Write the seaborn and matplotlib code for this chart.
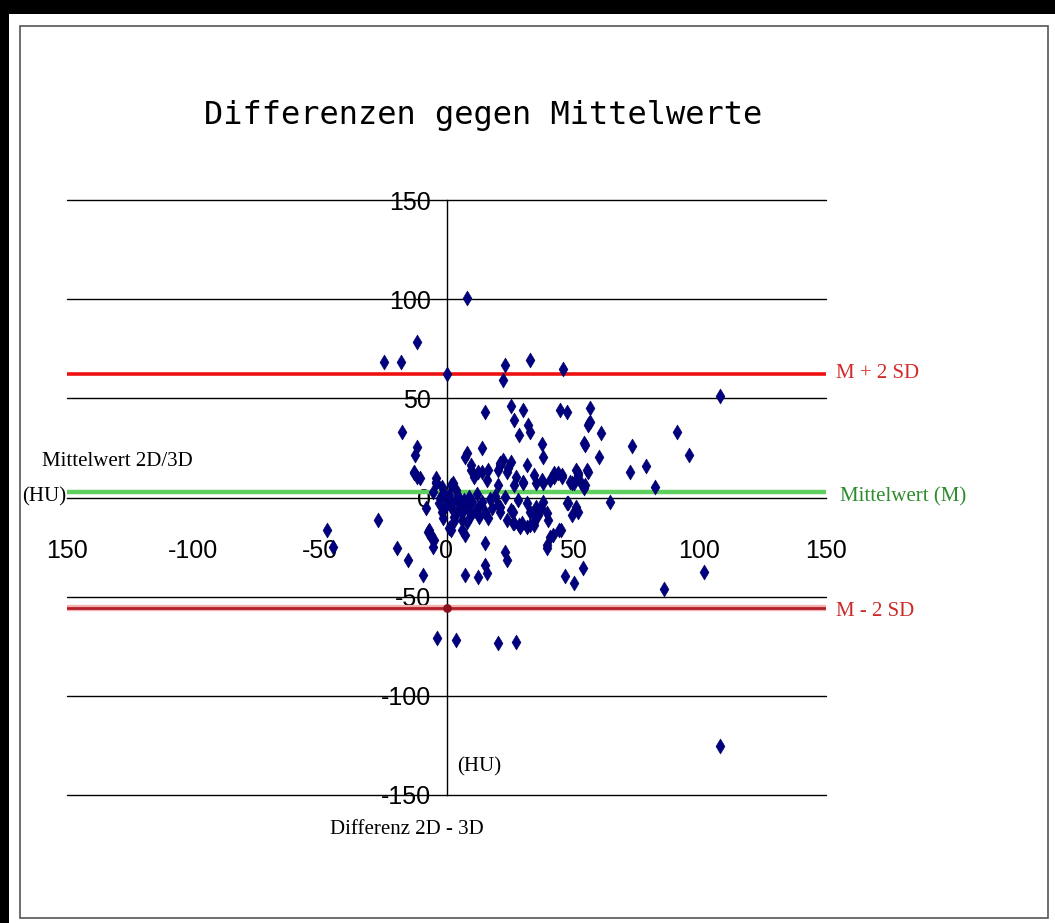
import matplotlib
matplotlib.use("Agg")
import matplotlib.pyplot as plt
import seaborn as sns
import pandas as pd
from matplotlib.patches import Rectangle

# Mean of 2D and 3D measurement (HU) and difference 2D - 3D (HU)
mittelwert = [
    8.3, -24.9, -17.8, -11.5, 0.0, 23.3, 22.5, 33.2, 46.2,
    108.3, 91.3, 95.7, 73.5, 72.7, 78.7, 82.6, 64.8,
    -17.4, -11.5, -12.3, -13.0, -11.5, -4.3, -4.3, 1.6,
    15.4, 25.3, 30.4, 26.5, 32.4, 33.2, 28.5, 37.9, 38.3, 44.7, 47.8, 56.9,
    56.5, 54.2, 14.2, 8.3, 7.5, 32.0, 22.5, 25.3, 9.5, 14.2, 20.2, 24.1,
    42.3, 45.8, 51.0, 56.1, 10.7, 16.2, 21.3, 24.5, 20.2, 30.4, 35.2, 38.3,
    42.3, 49.0, 51.8, 53.0, 54.9, 60.1, 60.9, 56.1, 56.9,
    45.8, 51.8, 50.2, 55.7, 54.9, 54.2, 47.8, 51.0, 49.8, 45.1,
    53.8, 47.0, 50.2, 101.6, 85.8, 108.3,
    43.9, 37.9, 41.1, 49.8, 35.2, 33.2, 40.3, 30.0, 34.4, 41.9, 39.9,
    -13.0, -10.3, -4.3, -1.6, 2.4, 3.6, -2.4, 0.4, 1.6, -1.6, -1.2, 2.8,
    4.7, 6.3, 8.3, 9.5, 12.3, 14.2, 15.4, 8.3, 16.6, 20.2, 21.3, 25.3,
    24.1, -7.5, -5.1, -6.3, 0.8, 6.3, 9.5, 12.6, 16.6, 21.3, 27.3,
    30.4, 34.4, 26.5, 28.1, 32.0, 26.1, 28.5, 32.0, 34.4, 36.0,
    -5.5, -8.3, 0.0, 2.0, 4.0, 5.5, 7.0, 10.0, 11.5, 13.0, 3.0, -0.5,
    6.0, 18.0, 17.0, -3.0, 1.0, 4.5, 9.0, 12.0, 19.0, 23.0, -1.0,
    -26.9, -19.4, -15.4, -9.1, -7.1, -6.3, -5.5, 1.6, 7.5, 15.4,
    23.3, 24.1, 15.4, 16.2, 7.5, 12.6, 26.5, 29.2, 33.2, 35.2, 37.2,
    38.3, 39.9, 41.1, 39.9, 44.3, 48.2, 51.8, 26.1, 21.3,
    -47.4, -45.0, -3.6, 3.6, 20.5, 27.3,
]
differenz = [
    100.6, 68.3, 68.3, 78.4, 62.3, 66.8, 59.3, 69.3, 64.8,
    51.2, 33.0, 21.4, 26.0, 12.9, 15.9, 5.3, -2.3,
    33.0, 25.5, 21.4, 12.4, 10.3, 9.8, 7.8, 6.3,
    43.1, 46.1, 44.1, 39.1, 36.6, 33.0, 31.5, 27.0, 20.4, 44.1, 43.1, 45.1,
    37.6, 27.5, 25.0, 22.4, 20.4, 16.4, 18.9, 17.9, 13.9, 12.9, 13.9, 12.9,
    12.4, 11.3, 13.9, 12.9, 10.3, 8.8, 17.4, 14.9, 6.3, 7.3, 7.3, 7.3,
    10.3, 7.8, 12.4, 7.3, 26.5, 20.4, 32.5, 36.6, 38.1,
    10.3, 11.3, 7.3, 13.9, 6.3, 4.8, -2.8, -4.8, -8.8, -16.4,
    -35.6, -39.6, -43.1, -37.6, -46.1, -125.4,
    12.4, 8.8, 8.8, 7.3, -4.8, -7.3, -11.3, -12.9, -13.9, -18.9, -24.0,
    12.9, 9.8, 7.3, 5.3, 7.3, 3.8, -0.3, -2.3, -4.8, -7.3, -10.3, -9.8,
    -6.3, -11.3, -4.8, -8.8, -5.3, -2.3, -7.3, -12.4, -10.3, -3.8, -7.3, -6.3,
    -11.3, -17.4, -21.4, -18.9, -15.4, -16.4, 16.4, 12.9, 13.9, 16.4, 10.3,
    7.8, 11.3, 6.3, -1.3, -2.8, -12.9, -13.9, -14.9, -12.4, -8.8,
    2.8, -5.3, -1.3, -3.0, -1.0, -3.5, -1.5, -2.5, -7.0, -10.0, -12.0, -5.0,
    -8.0, -5.5, -1.0, -3.0, 1.5, 1.0, 0.5, 2.0, 1.0, 0.5, 2.5,
    -11.3, -25.5, -31.5, -39.1, -16.4, -19.9, -25.0, -16.4, -18.9, -22.9,
    -27.5, -31.5, -34.0, -38.1, -39.1, -40.1, -12.9, -14.9, -13.9, -9.8, -5.3,
    -2.3, -7.8, -19.9, -25.5, -16.4, -2.8, -7.3, -7.3, -4.8,
    -16.4, -25.0, -70.9, -71.9, -73.4, -72.9,
]

# Mean difference and limits of agreement (M +/- 2 SD)
mean_diff = 3.0
upper_loa = 62.5
lower_loa = -55.5

axis_ticks = [-150, -100, -50, 0, 50, 100, 150]
x_tick_labels = ["150", "-100", "-50", "0", "50", "100", "150"]
y_tick_labels = ["-150", "-100", "-50", "0", "50", "100", "150"]
grid_levels = [-150, -100, -50, 50, 100, 150]

df = pd.DataFrame({"Mittelwert": mittelwert, "Differenz": differenz})

sns.set_style("white")
plt.rcParams["text.color"] = "black"
fig = plt.figure(figsize=(10.55, 9.23), dpi=100)

# Outer frame: heavy black edge on top and left, thin grey border inside
fig.patches.append(Rectangle((0, 0.985), 1, 0.015, transform=fig.transFigure,
                             facecolor="black", edgecolor="none", zorder=0))
fig.patches.append(Rectangle((0, 0), 0.0085, 1, transform=fig.transFigure,
                             facecolor="black", edgecolor="none", zorder=0))
fig.patches.append(Rectangle((0.0185, 0.005), 0.9745, 0.967, transform=fig.transFigure,
                             facecolor="none", edgecolor="#555555", linewidth=1.2, zorder=0))

ax = fig.add_axes([67 / 1055, 128 / 923, 759 / 1055, 595 / 923])
ax.set_xlim(-150, 150)
ax.set_ylim(-150, 150)

for lvl in grid_levels:
    ax.axhline(lvl, color="black", linewidth=1.0, zorder=1, clip_on=False)

ax.axhline(upper_loa, color="#ee1111", linewidth=2.6, zorder=2)
ax.axhline(lower_loa, color="#f4b0b0", linewidth=4.5, zorder=2)
ax.axhline(lower_loa, color="#b0202a", linewidth=2.0, zorder=2)
ax.axhline(mean_diff, color="#5fcf5f", linewidth=3.2, zorder=2)

for side in ["top", "right"]:
    ax.spines[side].set_visible(False)
ax.spines["left"].set_position(("data", 0))
ax.spines["bottom"].set_position(("data", 0))
for side in ["left", "bottom"]:
    ax.spines[side].set_color("black")
    ax.spines[side].set_linewidth(1.0)
    ax.spines[side].set_zorder(1)

ax.set_xticks(axis_ticks)
ax.set_xticklabels(x_tick_labels)
ax.set_yticks(axis_ticks)
ax.set_yticklabels(y_tick_labels)
ax.tick_params(axis="x", direction="out", length=7, width=1, color="black",
               pad=23, labelsize=18, labelcolor="black")
ax.tick_params(axis="y", length=0, pad=11, labelsize=18, labelcolor="black")
for lab in ax.get_xticklabels() + ax.get_yticklabels():
    lab.set_fontfamily("Liberation Sans")

sns.scatterplot(data=df, x="Mittelwert", y="Differenz", ax=ax, marker="d",
                s=58, color="#000080", edgecolor="#000060", linewidth=0.4,
                zorder=4, legend=False)
ax.scatter([0], [lower_loa], marker="o", s=28, color="#8b1020", zorder=4)
ax.set_xlabel("")
ax.set_ylabel("")

serif = "Liberation Serif"
fig.text(483 / 1055, 1 - 116 / 923, "Differenzen gegen Mittelwerte",
         ha="center", va="center", fontsize=23, family="DejaVu Sans Mono",
         color="black")
fig.text(42 / 1055, 1 - 462 / 923, "Mittelwert 2D/3D", ha="left", va="center",
         fontsize=15, family=serif, color="black")
fig.text(22 / 1055, 1 - 497 / 923, "(HU)", ha="left", va="center",
         fontsize=15, family=serif, color="black")
fig.text(457 / 1055, 1 - 767 / 923, "(HU)", ha="left", va="center",
         fontsize=15, family=serif, color="black")
fig.text(330 / 1055, 1 - 830 / 923, "Differenz 2D - 3D", ha="left", va="center",
         fontsize=15, family=serif, color="black")
fig.text(836 / 1055, 1 - 373 / 923, "M + 2 SD", ha="left", va="center",
         fontsize=15, family=serif, color="#d42a2a")
fig.text(840 / 1055, 1 - 497 / 923, "Mittelwert (M)", ha="left", va="center",
         fontsize=15, family=serif, color="#2e8b2e")
fig.text(836 / 1055, 1 - 612 / 923, "M - 2 SD", ha="left", va="center",
         fontsize=15, family=serif, color="#cc2a2a")

fig.savefig("out.png", dpi=100, facecolor="white")
